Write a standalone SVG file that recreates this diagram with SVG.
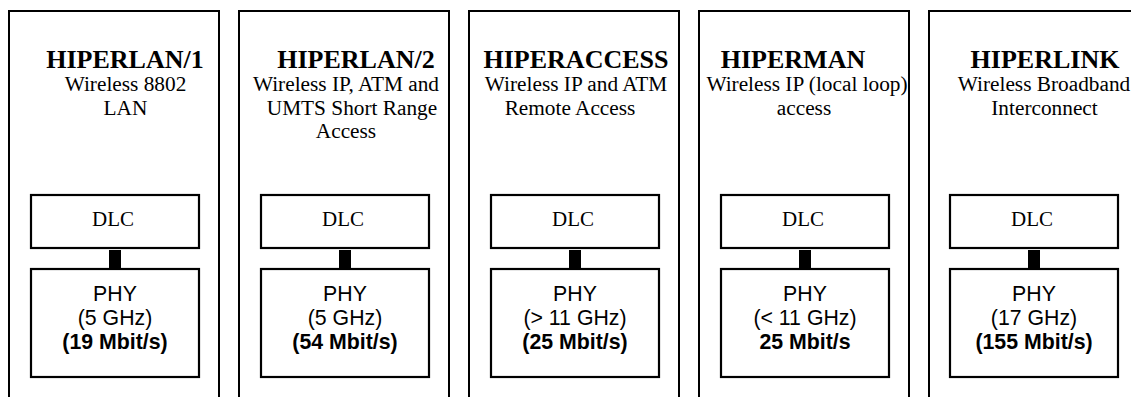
<svg xmlns="http://www.w3.org/2000/svg" width="1131" height="397" viewBox="0 0 1131 397">
<style>
.col{fill:#fff;stroke:#000;stroke-width:2}
.box{fill:#fff;stroke:#000;stroke-width:2.2}
.title{font-family:"Liberation Serif","Times New Roman",serif;font-weight:bold;font-size:26px;text-anchor:middle;fill:#000}
.sub{font-family:"Liberation Serif","Times New Roman",serif;font-size:21.3px;text-anchor:middle;fill:#000}
.dlc{font-family:"Liberation Serif","Times New Roman",serif;font-size:21px;text-anchor:middle;fill:#000}
.phy{font-family:"Liberation Sans",Arial,sans-serif;font-size:21.3px;text-anchor:middle;fill:#000}
.b{font-weight:bold}
.link{fill:#000;stroke:none}
</style>
<rect width="1131" height="397" fill="#fff"/>

<g id="hiperlan1">
<rect class="col" x="9" y="11" width="210" height="400"/>
<text class="title" x="125" y="68">HIPERLAN/1</text>
<text class="sub" x="125.5" y="91">Wireless 8802</text>
<text class="sub" x="125.5" y="114.5">LAN</text>
<rect class="box" x="31" y="195" width="168" height="53"/>
<text class="dlc" x="113" y="226">DLC</text>
<rect class="box" x="31" y="269" width="168" height="108"/>
<text class="phy" x="115" y="301">PHY</text>
<text class="phy" x="115" y="325">(5 GHz)</text>
<text class="phy b" x="115" y="349">(19 Mbit/s)</text>
</g>

<g id="hiperlan2">
<rect class="col" x="239" y="11" width="210" height="400"/>
<text class="title" x="356" y="68">HIPERLAN/2</text>
<text class="sub" x="346" y="91">Wireless IP, ATM and</text>
<text class="sub" x="352" y="114.5">UMTS Short Range</text>
<text class="sub" x="346" y="138">Access</text>
<rect class="box" x="261" y="195" width="168" height="53"/>
<text class="dlc" x="343" y="226">DLC</text>
<rect class="box" x="261" y="269" width="168" height="108"/>
<text class="phy" x="345" y="301">PHY</text>
<text class="phy" x="345" y="325">(5 GHz)</text>
<text class="phy b" x="345" y="349">(54 Mbit/s)</text>
</g>

<g id="hiperaccess">
<rect class="col" x="469" y="11" width="210" height="400"/>
<text class="title" x="576" y="68">HIPERACCESS</text>
<text class="sub" x="576" y="91">Wireless IP and ATM</text>
<text class="sub" x="570" y="114.5">Remote Access</text>
<rect class="box" x="491" y="195" width="168" height="53"/>
<text class="dlc" x="573" y="226">DLC</text>
<rect class="box" x="491" y="269" width="168" height="108"/>
<text class="phy" x="575" y="301">PHY</text>
<text class="phy" x="575" y="325">(&gt; 11 GHz)</text>
<text class="phy b" x="575" y="349">(25 Mbit/s)</text>
</g>

<g id="hiperman">
<rect class="col" x="699" y="11" width="210" height="400"/>
<text class="title" x="793" y="68">HIPERMAN</text>
<text class="sub" x="807" y="91">Wireless IP (local loop)</text>
<text class="sub" x="804" y="114.5">access</text>
<rect class="box" x="721" y="195" width="168" height="53"/>
<text class="dlc" x="803" y="226">DLC</text>
<rect class="box" x="721" y="269" width="168" height="108"/>
<text class="phy" x="805" y="301">PHY</text>
<text class="phy" x="805" y="325">(&lt; 11 GHz)</text>
<text class="phy b" x="805" y="349">25 Mbit/s</text>
</g>

<g id="hiperlink">
<rect class="col" x="929" y="11" width="210" height="400"/>
<text class="title" x="1045" y="68">HIPERLINK</text>
<text class="sub" x="1044" y="91">Wireless Broadband</text>
<text class="sub" x="1044.5" y="114.5">Interconnect</text>
<rect class="box" x="950" y="195" width="168" height="53"/>
<text class="dlc" x="1032" y="226">DLC</text>
<rect class="box" x="950" y="269" width="168" height="108"/>
<text class="phy" x="1034" y="301">PHY</text>
<text class="phy" x="1034" y="325">(17 GHz)</text>
<text class="phy b" x="1034" y="349">(155 Mbit/s)</text>
</g>

<g id="connectors">
<rect class="link" x="109" y="250" width="12" height="18"/>
<rect class="link" x="339" y="250" width="12" height="18"/>
<rect class="link" x="569" y="250" width="12" height="18"/>
<rect class="link" x="799" y="250" width="12" height="18"/>
<rect class="link" x="1028" y="250" width="12" height="18"/>
</g>
</svg>
